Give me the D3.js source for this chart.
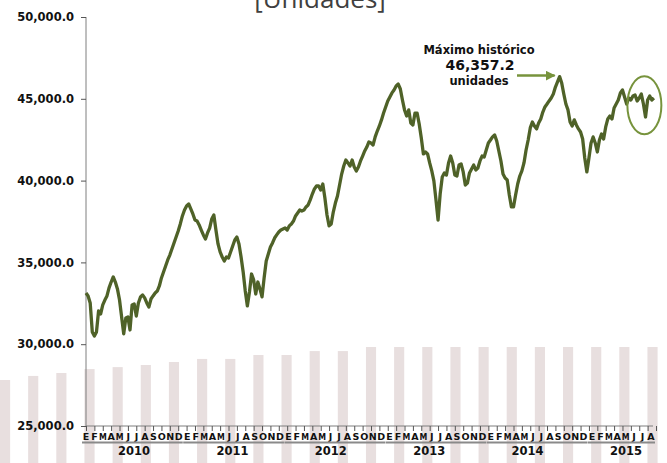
<!DOCTYPE html>
<html><head><meta charset="utf-8">
<script src="https://cdn.jsdelivr.net/npm/d3@7"></script>
<style>
html,body{margin:0;padding:0;background:#fff;overflow:hidden;}
svg{display:block;font-family:"DejaVu Sans",sans-serif;}
</style></head><body>
<svg id="chart" width="667" height="463"></svg>
<script>
// ---- data ----
const years = [2010, 2011, 2012, 2013, 2014, 2015];
const monthLetters = ["E","F","M","A","M","J","J","A","S","O","N","D"];
const yTicks = [25000, 30000, 35000, 40000, 45000, 50000];
const pointsPerMonth = 4;
const ipc2010 = [33130,32950,32520,30750,30500,30750,32030,31850,32400,32700,32950,33440,
  33800,34110,33800,33380,32700,31660,30630,31600,31660,30870,32400,32460,
  31720,32520,32890,33010,32830,32520,32270,32760,32950,33130,33250,33560,
  34050,34410,34780,35150,35450,35820,36190,36550,36920,37350,37840,38200];
const ipc2011 = [38450,38570,38270,37960,37590,37530,37290,36980,36680,36430,36800,37100,
  37650,37900,36980,36130,35640,35330,35090,35330,35270,35640,36000,36370,
  36550,36130,35330,34410,33250,32340,33190,34290,33930,33070,33800,33380,
  32890,34050,35090,35510,35940,36190,36490,36680,36860,36980,37040,37100];
const ipc2012 = [36980,37230,37350,37530,37840,38020,38200,38140,38200,38390,38510,38820,
  39180,39490,39670,39670,39430,39790,38940,37900,37230,37350,38080,38630,
  39060,39730,40400,40890,41260,41080,40890,41260,40830,40590,40830,41200,
  41500,41810,42050,42360,42300,42180,42670,43030,43340,43710,44130,44500];
const ipc2013 = [44870,45110,45360,45540,45780,45900,45600,44930,44320,43950,44320,43520,
  43400,44130,44130,43460,42610,41630,41750,41630,41080,40590,39980,38820,
  37590,39180,40220,40470,40340,41080,41500,41080,40340,40280,40950,41020,
  40530,39730,39850,40470,40710,40950,40650,40770,41200,41500,41440,41870];
const ipc2014 = [42300,42480,42670,42790,42420,41810,41200,40400,40160,40040,39120,38390,
  38390,39120,39790,40280,40590,41080,41870,42480,43220,43580,43340,43160,
  43520,43770,44190,44500,44680,44870,45050,45290,45720,46030,46357,45970,
  45290,44680,44320,43580,43340,43710,43400,43160,42970,42540,41380,40530];
const ipc2015 = [41380,42300,42670,42300,41750,42480,42850,42540,43280,43770,43950,43770,
  44440,44680,44930,45360,45540,45110,44680,45050,44930,45170,45230,44870,
  45050,45290,44680,43890,44930,45170,44930,45050];
const ipcByYear = [ipc2010, ipc2011, ipc2012, ipc2013, ipc2014, ipc2015];
const bgBars = [27810,28060,28240,28480,28600,28730,28910,29100,29100,29340,29340,29580,
  29580,29830,29830,29830,29830,29830,29830,29830,29830,29830,29830,29830];
const maxLabel = ["Máximo histórico", "46,357.2", "unidades"];
const titleText = "[Unidades]";

// ---- build series ----
const series = [];
ipcByYear.forEach((arr, yi) => {
  arr.forEach((v, k) => series.push({t: yi * 12 + k / pointsPerMonth, v}));
});
const monthCount = 68;

// ---- scales ----
const svg = d3.select("#chart");
const W = 667, H = 463;
const x = d3.scaleLinear().domain([0, monthCount]).range([86, 656]);
const y = d3.scaleLinear().domain([25000, 50000]).range([426, 17]);
const xb = d3.scaleBand().domain(d3.range(bgBars.length)).range([0, 28.15 * (bgBars.length - 0.64)])
  .paddingInner(0.64).paddingOuter(0);
const xMonthLabel = d3.scalePoint().domain(d3.range(monthCount)).range([86, 651]);
const xYearLabel = d3.scalePoint().domain(years).range([134, 626]);

// background decorative bars
svg.append("g").selectAll("rect").data(bgBars).join("rect")
  .attr("x", (d, i) => xb(i)).attr("width", xb.bandwidth())
  .attr("y", d => y(d)).attr("height", d => H - y(d))
  .attr("fill", "#e8dfdf");

// title (cropped at top, as in the source)
svg.append("text").attr("x", 320).attr("y", 8).attr("text-anchor", "middle")
  .attr("font-family", "'Open Sans', sans-serif").attr("font-weight", 400)
  .attr("font-size", 26).attr("fill", "#404040").text(titleText);

// y axis
const yAxis = d3.axisLeft(y).tickValues(yTicks).tickSize(5).tickPadding(7)
  .tickFormat(d3.format(",.1f"));
const gy = svg.append("g").attr("transform", "translate(86,0)").call(yAxis);
gy.select(".domain").attr("stroke", "#7f7f7f").attr("d", "M0,17V426");
gy.selectAll(".tick line").attr("stroke", "#555");
gy.selectAll(".tick text").attr("font-size", 11.5).attr("font-weight", 700).attr("fill", "#111")
  .attr("font-family", "'DejaVu Sans', sans-serif");

// x axis (months)
const monthTicks = d3.range(0, monthCount + 1);
const xAxis = d3.axisBottom(x).tickValues(monthTicks).tickSize(5).tickFormat("");
const gx = svg.append("g").attr("transform", "translate(0,426)").call(xAxis);
gx.select(".domain").attr("stroke", "#7f7f7f").attr("d", "M86,0H653");
gx.selectAll(".tick line").attr("stroke", "#555");

const months = d3.range(monthCount).map(i => ({i, label: monthLetters[i % 12]}));
svg.append("g").selectAll("text").data(months).join("text")
  .attr("x", d => xMonthLabel(d.i)).attr("y", 440).attr("text-anchor", "middle")
  .attr("font-size", 9.5).attr("font-weight", 700).attr("fill", "#111")
  .attr("textLength", d => d.label === "M" ? 7.8 : null).attr("lengthAdjust", "spacingAndGlyphs")
  .text(d => d.label);

// year underline + labels
const yearSpans = years.map((yr, i) => ({yr, s: i * 12, e: Math.min(i * 12 + 11, monthCount - 1)}));
svg.append("g").selectAll("line").data(yearSpans).join("line")
  .attr("x1", d => xMonthLabel(d.s) - 4).attr("x2", d => xMonthLabel(d.e) + 4)
  .attr("y1", 442.5).attr("y2", 442.5).attr("stroke", "#8a8a8a").attr("stroke-width", 2);
svg.append("g").selectAll("text").data(yearSpans).join("text")
  .attr("x", d => xYearLabel(d.yr)).attr("y", 455).attr("text-anchor", "middle")
  .attr("font-size", 11.5).attr("font-weight", 700).attr("fill", "#111")
  .text(d => d.yr);

// line
const line = d3.line().x(d => x(d.t)).y(d => y(d.v));
svg.append("path").datum(series).attr("d", line)
  .attr("fill", "none").attr("stroke", "#4f6228").attr("stroke-width", 3.3)
  .attr("stroke-linejoin", "round");

// annotation
const ann = svg.append("g").attr("font-weight", 700).attr("fill", "#111").attr("text-anchor", "middle");
ann.append("text").attr("x", 479).attr("y", 54).attr("font-size", 11.5).text(maxLabel[0]);
ann.append("text").attr("x", 480).attr("y", 70).attr("font-size", 14).text(maxLabel[1]);
ann.append("text").attr("x", 479).attr("y", 85).attr("font-size", 11.5).text(maxLabel[2]);

const peak = series.reduce((a, b) => (b.v > a.v ? b : a));
const ay = y(peak.v) - 1;
svg.append("defs").append("marker").attr("id", "arr").attr("viewBox", "0 0 10 10")
  .attr("refX", 9).attr("refY", 5).attr("markerWidth", 4).attr("markerHeight", 4)
  .attr("orient", "auto").append("path").attr("d", "M0,0L10,5L0,10z").attr("fill", "#77933c");
svg.append("line").attr("x1", 517).attr("x2", x(peak.t) - 5).attr("y1", ay).attr("y2", ay)
  .attr("stroke", "#77933c").attr("stroke-width", 2.5).attr("marker-end", "url(#arr)");

// ellipse highlighting recent period
const recent = series.filter(d => d.t >= 65);
const ex = (x(d3.min(recent, d => d.t)) + x(d3.max(recent, d => d.t))) / 2;
svg.append("ellipse").attr("cx", ex + 2).attr("cy", y(44600)).attr("rx", 17).attr("ry", 29)
  .attr("fill", "none").attr("stroke", "#77933c").attr("stroke-width", 2);
</script>
</body></html>
